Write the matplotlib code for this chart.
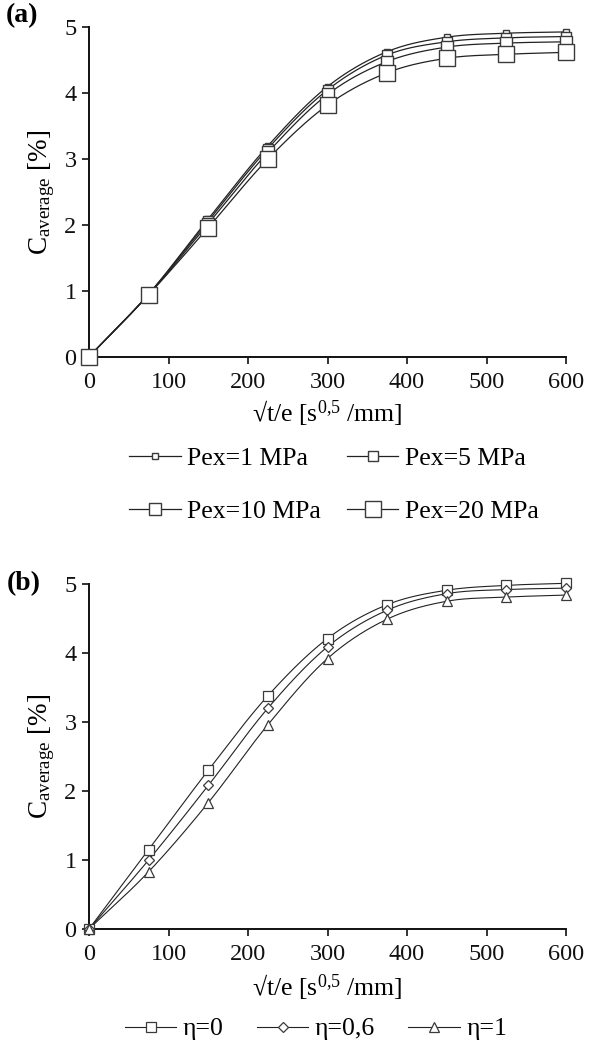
import numpy as np
import matplotlib
matplotlib.use("Agg")
import matplotlib.pyplot as plt

plt.rcParams['font.family'] = ['Liberation Serif', 'DejaVu Serif']
plt.rcParams['mathtext.fontset'] = 'custom'
plt.rcParams['mathtext.rm'] = 'Liberation Serif'
plt.rcParams['mathtext.it'] = 'Liberation Serif:italic'
plt.rcParams['mathtext.bf'] = 'Liberation Serif:bold'

# ---------------- data ----------------
x_vals = [0, 75, 150, 225, 300, 375, 450, 525, 600]

# panel (a)
pex_labels = ["Pex=1 MPa", "Pex=5 MPa", "Pex=10 MPa", "Pex=20 MPa"]
pex_1 = [0, 0.95, 2.09, 3.20, 4.10, 4.63, 4.85, 4.91, 4.93]
pex_5 = [0, 0.95, 2.06, 3.16, 4.05, 4.58, 4.78, 4.84, 4.86]
pex_10 = [0, 0.94, 2.02, 3.10, 3.98, 4.48, 4.70, 4.76, 4.78]
pex_20 = [0, 0.94, 1.96, 3.00, 3.82, 4.31, 4.53, 4.59, 4.62]

# panel (b)
eta_labels = ["η=0", "η=0,6", "η=1"]
eta_0 = [0, 1.15, 2.30, 3.38, 4.21, 4.70, 4.91, 4.98, 5.01]
eta_06 = [0, 1.00, 2.08, 3.20, 4.09, 4.62, 4.86, 4.92, 4.94]
eta_1 = [0, 0.83, 1.83, 2.96, 3.92, 4.49, 4.75, 4.81, 4.84]

x_ticks = [0, 100, 200, 300, 400, 500, 600]
y_ticks = [0, 1, 2, 3, 4, 5]


def smooth(x, y, n=30):
    """Catmull-Rom spline through the given points (Excel-like smoothed line)."""
    x = np.asarray(x, float)
    y = np.asarray(y, float)
    P = np.column_stack([x, y])
    P = np.vstack([2 * P[0] - P[1], P, 2 * P[-1] - P[-2]])
    out = []
    t = np.linspace(0, 1, n)
    for i in range(1, len(P) - 2):
        p0, p1, p2, p3 = P[i - 1], P[i], P[i + 1], P[i + 2]
        seg = 0.5 * ((2 * p1)[None, :]
                     + (-p0 + p2)[None, :] * t[:, None]
                     + (2 * p0 - 5 * p1 + 4 * p2 - p3)[None, :] * t[:, None] ** 2
                     + (-p0 + 3 * p1 - 3 * p2 + p3)[None, :] * t[:, None] ** 3)
        out.append(seg if i == 1 else seg[1:])
    out = np.vstack(out)
    return out[:, 0], out[:, 1]


W, H = 589, 1043
fig = plt.figure(figsize=(W / 100, H / 100), dpi=100)

line_c = '#222222'
edge_c = '#3a3a3a'
TICK_FS = 17.5
LAB_FS = 18.5
YLAB_FS = 19.5
LEG_FS = 18.5


def style_axes(ax, xlabelpad):
    ax.set_xlim(0, 600)
    ax.set_ylim(0, 5)
    ax.set_xticks(x_ticks)
    ax.set_yticks(y_ticks)
    for s in ['top', 'right']:
        ax.spines[s].set_visible(False)
    for s in ['left', 'bottom']:
        ax.spines[s].set_linewidth(1.4)
        ax.spines[s].set_color('#111111')
    ax.tick_params(axis='both', direction='out', length=5, width=1.2,
                   labelsize=TICK_FS, colors='#111111')
    ax.tick_params(axis='y', pad=4)
    ax.tick_params(axis='x', pad=6)
    ax.set_xlabel(r'√t/e [s$^{\mathrm{0{,}5}}$ /mm]', fontsize=LAB_FS,
                  labelpad=xlabelpad)
    ax.set_ylabel(r'C$_{\mathrm{average}}$ [%]', fontsize=YLAB_FS, labelpad=5)


# ---------------- panel (a) ----------------
ax1 = fig.add_axes([89 / W, 1 - 356.7 / H, 477 / W, 329.4 / H])
series_a = [pex_1, pex_5, pex_10, pex_20]
msizes_a = [5.0, 6.8, 8.6, 11.5]
handles_a = []
for ys in series_a:
    sx, sy = smooth(x_vals, ys)
    ax1.plot(sx, sy, color=line_c, lw=0.9, zorder=2, clip_on=False)
for ys, ms, lab in zip(series_a, msizes_a, pex_labels):
    ax1.plot(x_vals, ys, linestyle='none', marker='s', ms=ms, mfc='white',
             mec=edge_c, mew=1.0, zorder=3, clip_on=False)
    h, = ax1.plot([], [], color=line_c, lw=0.9, marker='s', ms=ms, mfc='white',
                  mec=edge_c, mew=1.0, label=lab)
    handles_a.append(h)
style_axes(ax1, 4)
fig.text(6 / W, 1 - 16 / H, '(a)', fontsize=20, fontweight='bold',
         ha='left', va='center')
order = [0, 2, 1, 3]  # row-wise reading order in a 2-column legend
fig.legend(handles=[handles_a[i] for i in order],
           labels=[pex_labels[i] for i in order], ncol=2, loc='center',
           bbox_to_anchor=(334 / W, 1 - 485 / H), frameon=False,
           fontsize=LEG_FS, handlelength=2.0, handletextpad=0.25,
           columnspacing=1.0, labelspacing=1.15, numpoints=1)

# ---------------- panel (b) ----------------
ax2 = fig.add_axes([89 / W, 1 - 929 / H, 477 / W, 345 / H])
series_b = [eta_0, eta_06, eta_1]
markers_b = ['s', 'D', '^']
msizes_b = [6.5, 4.6, 6.5]
handles_b = []
for ys in series_b:
    sx, sy = smooth(x_vals, ys)
    ax2.plot(sx, sy, color=line_c, lw=0.8, zorder=2, clip_on=False)
for ys, mk, ms, lab in zip(series_b, markers_b, msizes_b, eta_labels):
    ax2.plot(x_vals, ys, linestyle='none', marker=mk, ms=ms, mfc='white',
             mec=edge_c, mew=0.9, zorder=3, clip_on=False)
    h, = ax2.plot([], [], color=line_c, lw=0.8, marker=mk, ms=ms, mfc='white',
                  mec=edge_c, mew=0.9, label=lab)
    handles_b.append(h)
style_axes(ax2, 5)
fig.text(7 / W, 1 - 584 / H, '(b)', fontsize=20, fontweight='bold',
         ha='left', va='center')
fig.legend(handles=handles_b, labels=eta_labels, ncol=3, loc='center',
           bbox_to_anchor=(316 / W, 1 - 1029 / H), frameon=False,
           fontsize=LEG_FS, handlelength=2.0, handletextpad=0.25,
           columnspacing=1.3, numpoints=1)

fig.savefig('out.png', dpi=100)
